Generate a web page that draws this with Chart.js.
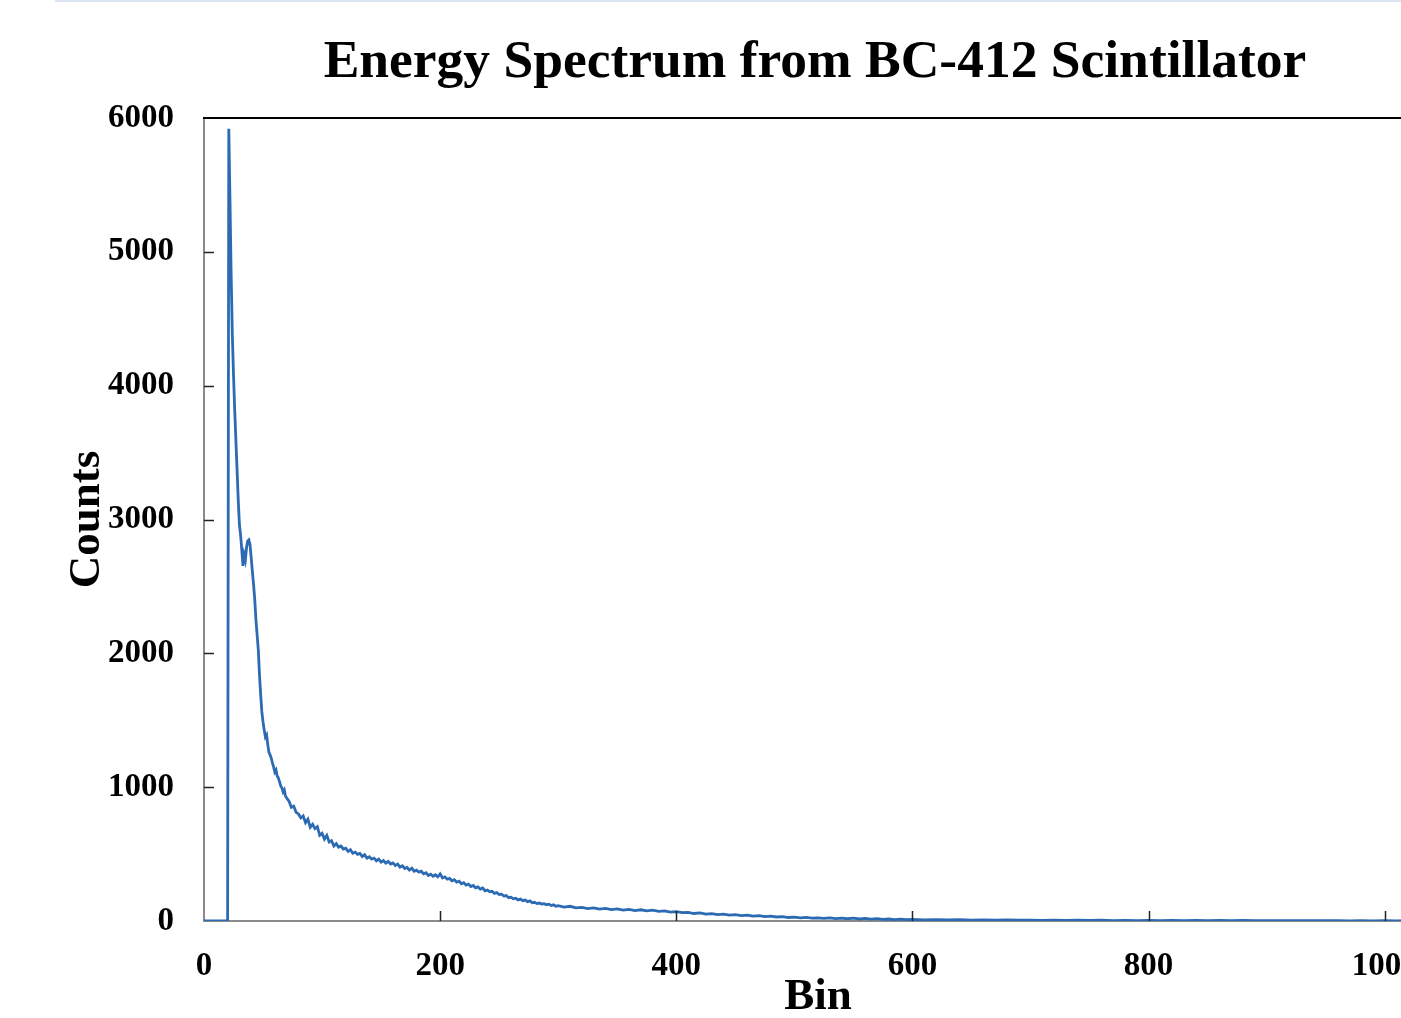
<!DOCTYPE html>
<html>
<head>
<meta charset="utf-8">
<script src="https://cdn.jsdelivr.net/npm/chart.js@4"></script>
<style>
    html, body { margin: 0; padding: 0; background: #fff; overflow: hidden; }
    body { width: 1401px; height: 1018px; position: relative; }
    #topRule { position: absolute; left: 55px; top: 0; width: 1346px; height: 2px; background: #dce5f1; }
    #chartTitle {
        position: absolute; left: 815px; top: 33px; transform: translateX(-50%);
        font: bold 53.5px "Liberation Serif", serif; line-height: 53.5px; white-space: nowrap; color: #000;
    }
    #chartBox { position: absolute; left: 0; top: 0; width: 1432px; height: 1018px; }
</style>
</head>
<body>
<div id="topRule"></div>
<div id="chartBox"><canvas id="spectrum"></canvas></div>
<div id="chartTitle">Energy Spectrum from BC-412 Scintillator</div>
<script>
const TITLE = 'Energy Spectrum from BC-412 Scintillator';
const X_LABEL = 'Bin';
const Y_LABEL = 'Counts';
const X_TICKS = [0, 200, 400, 600, 800, 1000];
const Y_TICKS = [0, 1000, 2000, 3000, 4000, 5000, 6000];

// bin numbers and counts
const bins = [
    0, 20, 21, 22, 23, 24, 25, 26, 27, 28, 29, 30, 31, 32, 33, 34, 35, 36, 37, 38, 39, 40,
    41, 42, 43, 44, 45, 46, 47, 48, 49, 50, 51, 52, 53, 54, 55, 56, 57, 58, 59, 60,
    61, 62, 63, 64, 65, 66, 67, 68, 69, 70,
    72, 74, 76, 78, 80, 82, 84, 86, 88, 90, 92, 94, 96, 98, 100,
    102, 104, 106, 108, 110, 112, 114, 116, 118, 120, 122, 124, 126, 128, 130,
    132, 134, 136, 138, 140, 142, 144, 146, 148, 150, 152, 154, 156, 158, 160,
    162, 164, 166, 168, 170, 172, 174, 176, 178, 180, 182, 184, 186, 188, 190, 192, 194, 196, 198, 200,
    202, 204, 206, 208, 210, 212, 214, 216, 218, 220, 222, 224, 226, 228, 230, 232, 234, 236, 238, 240,
    242, 244, 246, 248, 250,
    252, 254, 256, 258, 260, 262, 264, 266, 268, 270, 272, 274, 276, 278, 280, 282, 284, 286, 288, 290,
    292, 294, 296, 298, 300,
    305, 310, 315, 320, 325, 330, 335, 340, 345, 350, 355, 360, 365, 370, 375, 380, 385, 390, 395, 400,
    405, 410, 415, 420, 425, 430, 435, 440, 445, 450, 455, 460, 465, 470, 475, 480, 485, 490, 495, 500,
    505, 510, 515, 520, 525, 530, 535, 540, 545, 550, 555, 560, 565, 570, 575, 580, 585, 590, 595, 600,
    610, 620, 630, 640, 650, 660, 670, 680, 690, 700, 710, 720, 730, 740, 750, 760, 770, 780, 790, 800,
    810, 820, 830, 840, 850, 860, 870, 880, 890, 900, 910, 920, 930, 940, 950, 960, 970, 980, 990, 1000,
    1010, 1020, 1030, 1040
];
const counts = [
    0, 0, 5920, 5387, 4827, 4379, 4080, 3818, 3594, 3370, 3146, 2959, 2884, 2772, 2653, 2735, 2697, 2787, 2839, 2847, 2810, 2712,
    2608, 2511, 2399, 2249, 2137, 2025, 1838, 1689, 1562, 1487, 1427, 1375, 1390, 1320, 1260, 1240, 1215, 1180, 1150, 1113,
    1128, 1083, 1068, 1039, 1009, 994, 964, 979, 934, 919,
    895, 850, 858, 812, 800, 770, 785, 735, 760, 700, 722, 690, 705, 640, 655,
    612, 640, 590, 600, 560, 578, 552, 560, 538, 544, 520, 532, 506, 515, 498,
    505, 482, 495, 470, 480, 462, 470, 450, 462, 440, 452, 432, 445, 425, 434,
    415, 425, 402, 412, 392, 400, 380, 394, 372, 380, 365, 372, 352, 360, 340, 350, 334, 345, 330, 352,
    322, 330, 312, 318, 300, 308, 290, 298, 278, 286, 268, 276, 258, 266, 248, 255, 238, 246, 226, 232,
    218, 222, 206, 212, 198,
    200, 186, 190, 174, 178, 166, 170, 158, 164, 152, 156, 144, 150, 136, 140, 130, 134, 126, 130, 122,
    126, 116, 121, 110, 115,
    104, 110, 98, 102, 93, 98, 89, 94, 85, 90, 81, 87, 78, 84, 76, 81, 72, 76, 66, 70,
    62, 65, 56, 60, 52, 55, 48, 52, 44, 47, 40, 44, 37, 40, 33, 37, 30, 33, 26, 29,
    23, 27, 21, 24, 19, 23, 18, 22, 17, 21, 15, 19, 14, 17, 12, 15, 11, 14, 10, 12,
    9, 11, 8, 10, 7, 9, 6, 8, 6, 7, 5, 7, 4, 6, 4, 6, 3, 5, 3, 5,
    3, 4, 3, 4, 2, 4, 2, 4, 2, 3, 2, 3, 2, 3, 2, 3, 1, 3, 1, 3,
    1, 2, 1, 2
];

const SERIF = '"Liberation Serif", "Times New Roman", serif';

// ticks drawn inward, plus the black top edge of the plot
const framePlugin = {
    id: 'frame',
    afterDatasetsDraw(chart) {
        const { ctx, chartArea, scales } = chart;
        ctx.save();
        ctx.strokeStyle = '#000';
        ctx.lineWidth = 2;
        ctx.beginPath();
        ctx.moveTo(chartArea.left - 1, chartArea.top);
        ctx.lineTo(chartArea.right, chartArea.top);
        ctx.stroke();

        ctx.lineWidth = 1.5;
        ctx.strokeStyle = '#222';
        ctx.beginPath();
        Y_TICKS.forEach(v => {
            if (v === 0 || v === 6000) return;
            const y = Math.round(scales.y.getPixelForValue(v)) + 0.5;
            ctx.moveTo(chartArea.left, y);
            ctx.lineTo(chartArea.left + 10, y);
        });
        X_TICKS.forEach(v => {
            if (v === 0) return;
            const x = Math.round(scales.x.getPixelForValue(v)) + 0.5;
            ctx.moveTo(x, chartArea.bottom);
            ctx.lineTo(x, chartArea.bottom - 10);
        });
        ctx.stroke();
        ctx.restore();
    }
};

const ctx = document.getElementById('spectrum').getContext('2d');
new Chart(ctx, {
    type: 'line',
    data: {
        datasets: [{
            label: TITLE,
            data: bins.map((b, i) => ({ x: b, y: counts[i] })),
            borderColor: '#2c6bb3',
            borderWidth: 2.8,
            pointRadius: 0,
            tension: 0,
            fill: false
        }]
    },
    options: {
        responsive: true,
        maintainAspectRatio: false,
        animation: false,
        layout: { padding: { top: 118, left: 0, right: 0, bottom: 0 } },
        plugins: {
            legend: { display: false },
            title: { display: false },
            tooltip: { enabled: false }
        },
        scales: {
            x: {
                type: 'linear',
                min: 0,
                max: 1040,
                afterBuildTicks: s => { s.ticks = X_TICKS.map(v => ({ value: v })); },
                afterFit: s => { s.height = 97; s.paddingLeft = 0; s.paddingRight = 0; },
                grid: { drawOnChartArea: false, drawTicks: false },
                border: { color: '#8a8a8a', width: 2 },
                ticks: {
                    padding: 26,
                    color: '#000',
                    maxRotation: 0,
                    callback: v => String(v),
                    font: { family: SERIF, size: 33, weight: 'bold' }
                },
                title: {
                    display: true,
                    text: X_LABEL,
                    color: '#000',
                    padding: { top: 0, bottom: -2 },
                    font: { family: SERIF, size: 45, weight: 'bold', lineHeight: 1 }
                }
            },
            y: {
                min: 0,
                max: 6000,
                afterBuildTicks: s => { s.ticks = Y_TICKS.map(v => ({ value: v })); },
                afterFit: s => { s.width = 204; s.paddingTop = 0; s.paddingBottom = 0; },
                grid: { drawOnChartArea: false, drawTicks: false },
                border: { color: '#8a8a8a', width: 2 },
                ticks: {
                    padding: 30,
                    color: '#000',
                    callback: v => String(v),
                    font: { family: SERIF, size: 33, weight: 'bold' }
                },
                title: {
                    display: true,
                    text: Y_LABEL,
                    color: '#000',
                    padding: { top: 60, bottom: 0 },
                    font: { family: SERIF, size: 45, weight: 'bold' }
                }
            }
        }
    },
    plugins: [framePlugin]
});
</script>
</body>
</html>
